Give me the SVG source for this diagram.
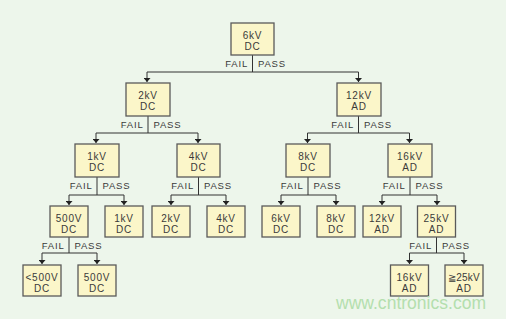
<svg xmlns="http://www.w3.org/2000/svg" width="506" height="319" viewBox="0 0 506 319">
<style>
.bg{fill:#edf6eb}
.box{fill:#fbf6c9;stroke:#5a5a5a;stroke-width:1.3}
.t{font-family:"Liberation Sans",Arial,sans-serif;font-size:10px;fill:#3a3a3a;text-anchor:middle;letter-spacing:0.8px}
.lbl{font-family:"Liberation Sans",Arial,sans-serif;font-size:9.5px;fill:#3a3a3a;letter-spacing:0.8px}
.ln{fill:none;stroke:#333;stroke-width:1}
.arr{fill:none;stroke:#333;stroke-width:1;marker-end:url(#ah)}
.wm{font-family:"Liberation Sans",Arial,sans-serif;font-size:19px;fill:#b4dfae}
</style>
<defs>
<marker id="ah" viewBox="0 0 4 7" refX="4" refY="3.5" markerWidth="4" markerHeight="7" markerUnits="userSpaceOnUse" orient="auto">
<path d="M0,0 L4,3.5 L0,7 z" fill="#222"/>
</marker>
</defs>
<rect class="bg" x="0" y="0" width="506" height="319"/>

<g id="connectors">
<!-- level 1 -->
<path class="ln" d="M252.5,55 V72 M147,72 H358.5"/>
<path class="arr" d="M147,72 V82"/>
<path class="arr" d="M358.5,72 V82"/>
<text class="lbl" x="248" y="67" text-anchor="end">FAIL</text>
<text class="lbl" x="258" y="67">PASS</text>
<!-- 2kV -->
<path class="ln" d="M148,116 V133 M96,133 H198"/>
<path class="arr" d="M96,133 V143"/>
<path class="arr" d="M198,133 V143"/>
<text class="lbl" x="143.5" y="128" text-anchor="end">FAIL</text>
<text class="lbl" x="153.5" y="128">PASS</text>
<!-- 12kV -->
<path class="ln" d="M358.5,116 V133 M307.5,133 H409.5"/>
<path class="arr" d="M307.5,133 V143"/>
<path class="arr" d="M409.5,133 V143"/>
<text class="lbl" x="354" y="128" text-anchor="end">FAIL</text>
<text class="lbl" x="364" y="128">PASS</text>
<!-- 1kV -->
<path class="ln" d="M97,177 V195 M69,195 H124"/>
<path class="arr" d="M69,195 V205"/>
<path class="arr" d="M124,195 V205"/>
<text class="lbl" x="92.5" y="189" text-anchor="end">FAIL</text>
<text class="lbl" x="102.5" y="189">PASS</text>
<!-- 4kV -->
<path class="ln" d="M198.5,177 V195 M171,195 H226"/>
<path class="arr" d="M171,195 V205"/>
<path class="arr" d="M226,195 V205"/>
<text class="lbl" x="194" y="189" text-anchor="end">FAIL</text>
<text class="lbl" x="204" y="189">PASS</text>
<!-- 8kV -->
<path class="ln" d="M308,177 V195 M281,195 H336"/>
<path class="arr" d="M281,195 V205"/>
<path class="arr" d="M336,195 V205"/>
<text class="lbl" x="303.5" y="189" text-anchor="end">FAIL</text>
<text class="lbl" x="313.5" y="189">PASS</text>
<!-- 16kV -->
<path class="ln" d="M410,177 V195 M382,195 H437"/>
<path class="arr" d="M382,195 V205"/>
<path class="arr" d="M437,195 V205"/>
<text class="lbl" x="405.5" y="189" text-anchor="end">FAIL</text>
<text class="lbl" x="415.5" y="189">PASS</text>
<!-- 500V -->
<path class="ln" d="M69,237 V253 M42,253 H97"/>
<path class="arr" d="M42,253 V264"/>
<path class="arr" d="M97,253 V264"/>
<text class="lbl" x="64.5" y="249" text-anchor="end">FAIL</text>
<text class="lbl" x="74.5" y="249">PASS</text>
<!-- 25kV -->
<path class="ln" d="M436.5,237 V253 M409.5,253 H464"/>
<path class="arr" d="M409.5,253 V264"/>
<path class="arr" d="M464,253 V264"/>
<text class="lbl" x="432" y="249" text-anchor="end">FAIL</text>
<text class="lbl" x="442" y="249">PASS</text>
</g>

<g id="n6kvdc"><rect class="box" x="231" y="23" width="43" height="32"/><text class="t" x="252.5" y="38.5">6kV</text><text class="t" x="252.5" y="49.5">DC</text></g>

<g id="n2kvdc"><rect class="box" x="126" y="83" width="44" height="33"/><text class="t" x="148" y="99">2kV</text><text class="t" x="148" y="110">DC</text></g>
<g id="n12kvad"><rect class="box" x="337" y="83" width="44" height="33"/><text class="t" x="359" y="99">12kV</text><text class="t" x="359" y="110">AD</text></g>

<g id="n1kvdc"><rect class="box" x="75" y="144" width="44" height="33"/><text class="t" x="97" y="160">1kV</text><text class="t" x="97" y="171">DC</text></g>
<g id="n4kvdc"><rect class="box" x="177" y="144" width="43" height="33"/><text class="t" x="198.5" y="160">4kV</text><text class="t" x="198.5" y="171">DC</text></g>
<g id="n8kvdc"><rect class="box" x="286" y="144" width="44" height="33"/><text class="t" x="308" y="160">8kV</text><text class="t" x="308" y="171">DC</text></g>
<g id="n16kvad"><rect class="box" x="388" y="144" width="44" height="33"/><text class="t" x="410" y="160">16kV</text><text class="t" x="410" y="171">AD</text></g>

<g id="n500vdc"><rect class="box" x="50" y="206" width="38" height="31"/><text class="t" x="69" y="221.5">500V</text><text class="t" x="69" y="232.5">DC</text></g>
<g id="n1kvdc2"><rect class="box" x="105" y="206" width="38" height="31"/><text class="t" x="124" y="221.5">1kV</text><text class="t" x="124" y="232.5">DC</text></g>
<g id="n2kvdc2"><rect class="box" x="152" y="206" width="38" height="31"/><text class="t" x="171" y="221.5">2kV</text><text class="t" x="171" y="232.5">DC</text></g>
<g id="n4kvdc2"><rect class="box" x="207" y="206" width="38" height="31"/><text class="t" x="226" y="221.5">4kV</text><text class="t" x="226" y="232.5">DC</text></g>
<g id="n6kvdc2"><rect class="box" x="262" y="206" width="38" height="31"/><text class="t" x="281" y="221.5">6kV</text><text class="t" x="281" y="232.5">DC</text></g>
<g id="n8kvdc2"><rect class="box" x="317" y="206" width="38" height="31"/><text class="t" x="336" y="221.5">8kV</text><text class="t" x="336" y="232.5">DC</text></g>
<g id="n12kvad2"><rect class="box" x="363" y="206" width="38" height="31"/><text class="t" x="382" y="221.5">12kV</text><text class="t" x="382" y="232.5">AD</text></g>
<g id="n25kvad"><rect class="box" x="417.5" y="206" width="38" height="31"/><text class="t" x="436.5" y="221.5">25kV</text><text class="t" x="436.5" y="232.5">AD</text></g>

<g id="nlt500vdc"><rect class="box" x="23" y="265" width="38" height="31"/><text class="t" x="42" y="280.5">&lt;500V</text><text class="t" x="42" y="291.5">DC</text></g>
<g id="n500vdc2"><rect class="box" x="78" y="265" width="38" height="31"/><text class="t" x="97" y="280.5">500V</text><text class="t" x="97" y="291.5">DC</text></g>
<g id="n16kvad2"><rect class="box" x="390.5" y="265" width="38" height="31"/><text class="t" x="409.5" y="280.5">16kV</text><text class="t" x="409.5" y="291.5">AD</text></g>
<g id="nge25kvad"><rect class="box" x="445" y="265" width="38" height="31"/><text class="t" x="464" y="280.5" style="letter-spacing:0.2px">≧25kV</text><text class="t" x="464" y="291.5">AD</text></g>

<text class="wm" x="336" y="309" textLength="150" lengthAdjust="spacingAndGlyphs">www.cntronics.com</text>
</svg>
